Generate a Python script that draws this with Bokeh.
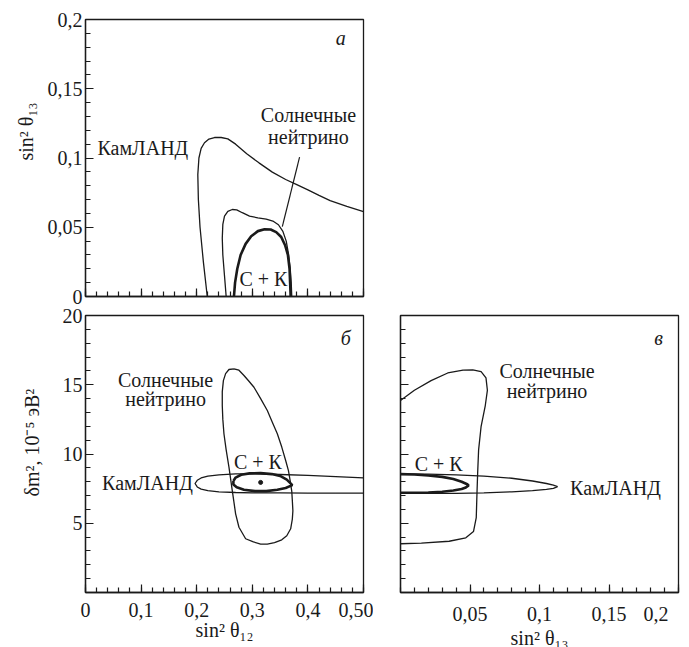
from bokeh.plotting import figure
from bokeh.layouts import gridplot
from bokeh.models import Range1d, FixedTicker, Title
from bokeh.core.properties import value
from bokeh.embed import file_html
from bokeh.resources import INLINE

FONT = "Liberation Serif"
INK = "#1a1a1a"
FS = "20px"

# ---------------- panel a: sin^2 theta12 vs sin^2 theta13 ----------------
a_kam_x = [0.219, 0.212, 0.206, 0.203, 0.202, 0.204, 0.208, 0.214, 0.222, 0.232, 0.244,
           0.256, 0.270, 0.290, 0.312, 0.336, 0.360, 0.380, 0.400, 0.420, 0.440, 0.470, 0.500]
a_kam_y = [0.000, 0.025, 0.050, 0.070, 0.088, 0.100, 0.107, 0.111, 0.1137, 0.1148, 0.1148,
           0.1138, 0.1100, 0.1030, 0.0965, 0.0898, 0.0845, 0.0808, 0.0770, 0.0730, 0.0692, 0.0650, 0.0612]

a_sol_x = [0.253, 0.250, 0.247, 0.246, 0.247, 0.250, 0.256, 0.264, 0.272, 0.282, 0.295,
           0.310, 0.325, 0.337, 0.347, 0.355, 0.361, 0.365, 0.368, 0.370, 0.371]
a_sol_y = [0.000, 0.015, 0.030, 0.042, 0.052, 0.058, 0.0615, 0.0628, 0.0625, 0.0605, 0.058,
           0.0568, 0.0558, 0.0545, 0.0518, 0.047, 0.040, 0.031, 0.021, 0.010, 0.000]

a_ck_x = [0.267, 0.269, 0.273, 0.279, 0.288, 0.298, 0.310, 0.322, 0.333, 0.343, 0.352,
          0.359, 0.364, 0.367, 0.368, 0.369]
a_ck_y = [0.000, 0.010, 0.020, 0.030, 0.038, 0.0435, 0.0472, 0.0485, 0.0484, 0.0465, 0.043,
          0.037, 0.030, 0.020, 0.010, 0.000]

a_lead_x = [0.385, 0.354]
a_lead_y = [0.1006, 0.0505]

# ---------------- panel b: sin^2 theta12 vs dm^2 ----------------
b_sol_x = [0.267, 0.276, 0.285, 0.294, 0.303, 0.315, 0.327, 0.336, 0.345, 0.353, 0.360, 0.365,
           0.368, 0.371, 0.372, 0.373, 0.372, 0.369, 0.362, 0.353, 0.340, 0.327, 0.315, 0.302,
           0.288, 0.276, 0.270, 0.264, 0.258, 0.253, 0.249, 0.247, 0.246, 0.246, 0.248, 0.252,
           0.258, 0.267]
b_sol_y = [16.15, 16.05, 15.67, 15.25, 14.82, 14.0, 13.14, 12.3, 11.46, 10.5, 9.53, 8.8,
           8.09, 7.3, 6.64, 5.9, 5.3, 4.6, 4.1, 3.8, 3.6, 3.5, 3.5, 3.65,
           3.88, 4.71, 5.68, 7.36, 9.05, 10.3, 11.46, 12.5, 13.5, 14.5, 15.3, 15.8,
           16.1, 16.15]

b_kam_x = [0.550, 0.500, 0.450, 0.400, 0.350, 0.300, 0.270, 0.240, 0.220, 0.208, 0.201, 0.197,
           0.201, 0.208, 0.220, 0.240, 0.270, 0.300, 0.350, 0.400, 0.450, 0.500, 0.550]
b_kam_y = [8.20, 8.28, 8.37, 8.45, 8.52, 8.57, 8.56, 8.50, 8.40, 8.27, 8.10, 7.87,
           7.62, 7.46, 7.35, 7.27, 7.22, 7.20, 7.19, 7.18, 7.17, 7.17, 7.17]

b_ck_x = [0.266, 0.270, 0.280, 0.295, 0.315, 0.335, 0.350, 0.362, 0.372, 0.360, 0.345,
          0.325, 0.305, 0.285, 0.272, 0.266, 0.266]
b_ck_y = [8.05, 8.30, 8.50, 8.60, 8.62, 8.55, 8.42, 8.15, 7.75, 7.55, 7.42,
          7.32, 7.32, 7.42, 7.60, 7.80, 8.05]

b_best_x = [0.315]
b_best_y = [7.95]

# ---------------- panel c: sin^2 theta13 vs dm^2 ----------------
c_sol_x = [0.000, 0.010, 0.022, 0.034, 0.045, 0.052, 0.058, 0.0615, 0.0625, 0.061, 0.058,
           0.0562, 0.0555, 0.0550, 0.0545, 0.0525, 0.047, 0.035, 0.015, 0.000]
c_sol_y = [13.86, 14.6, 15.3, 15.85, 16.05, 16.08, 15.95, 15.5, 14.6, 13.5, 12.0,
           10.3, 8.6, 7.1, 5.4, 4.4, 3.95, 3.7, 3.56, 3.52]

c_kam_x = [0.000, 0.020, 0.040, 0.060, 0.080, 0.095, 0.105, 0.110, 0.113, 0.110, 0.105,
           0.095, 0.080, 0.060, 0.040, 0.020, 0.000]
c_kam_y = [8.57, 8.54, 8.49, 8.40, 8.25, 8.05, 7.87, 7.75, 7.65, 7.52, 7.44,
           7.35, 7.27, 7.19, 7.16, 7.15, 7.15]

c_ck_x = [0.000, 0.010, 0.020, 0.030, 0.038, 0.044, 0.048, 0.049, 0.047, 0.044, 0.038,
          0.030, 0.020, 0.010, 0.000]
c_ck_y = [8.55, 8.52, 8.45, 8.35, 8.20, 8.00, 7.82, 7.73, 7.58, 7.47, 7.36,
          7.27, 7.22, 7.20, 7.20]

# ---------------- ticks ----------------
x12_major = [0, 0.1, 0.2, 0.3, 0.4, 0.5]
x12_labels = ["0", "0,1", "0,2", "0,3", "0,4", "0,50"]
y13_major = [0, 0.05, 0.1, 0.15, 0.2]
y13_labels = ["0", "0,05", "0,1", "0,15", "0,2"]
dm_major = [5, 10, 15, 20]
dm_labels = ["5", "10", "15", "20"]
x13_major = [0.05, 0.1, 0.15, 0.2]
x13_labels = ["0,05", "0,1", "0,15", "0,2\u2003"]

x12_minor = [i * 0.02 for i in range(26)]
y13_minor = [i * 0.01 for i in range(21)]
dm_minor = list(range(0, 21))
x13_minor = [i * 0.01 for i in range(21)]

FW, FH = 278, 277


def make(xr, yr, left, right, top, bottom):
    p = figure(frame_width=FW, frame_height=FH, x_range=Range1d(*xr), y_range=Range1d(*yr),
               output_backend="svg", toolbar_location=None,
               min_border_left=left, min_border_right=right,
               min_border_top=top, min_border_bottom=bottom)
    p.grid.visible = False
    p.outline_line_color = INK
    p.outline_line_width = 1.3
    p.background_fill_color = "white"
    p.border_fill_color = "white"
    for ax in p.axis:
        ax.axis_line_color = INK
        ax.axis_line_width = 1.3
        ax.major_tick_in = 8
        ax.major_tick_out = 0
        ax.minor_tick_in = 5
        ax.minor_tick_out = 0
        ax.major_tick_line_color = INK
        ax.minor_tick_line_color = INK
        ax.major_tick_line_width = 1.2
        ax.minor_tick_line_width = 1.2
        ax.major_label_text_font = FONT
        ax.major_label_text_font_size = FS
        ax.major_label_text_color = INK
        ax.axis_label_text_font = FONT
        ax.axis_label_text_font_size = FS
        ax.axis_label_text_font_style = "normal"
        ax.axis_label_text_color = INK
    return p


def ylabel(p, s, offset, standoff):
    p.add_layout(Title(text=s, align="left", offset=offset, standoff=standoff,
                       text_font=FONT, text_font_size=FS, text_font_style="normal",
                       text_color=INK), "left")


def txt(p, x, y, s, align="center", style="normal"):
    p.text(x=[x], y=[y], text=[s], text_font=value(FONT), text_font_size=FS,
           text_font_style=style, text_align=align, text_baseline="middle", text_color=INK)


# ---- panel a
pa = make((0, 0.5), (0, 0.2), 85, 10, 19, 10)
pa.xaxis.ticker = FixedTicker(ticks=x12_major, minor_ticks=x12_minor)
pa.xaxis.major_label_overrides = {t: "" for t in x12_major}
pa.xaxis.major_label_standoff = 0
pa.yaxis.ticker = FixedTicker(ticks=y13_major, minor_ticks=y13_minor)
pa.yaxis.major_label_overrides = dict(zip(y13_major, y13_labels))
pa.yaxis.major_label_standoff = 3
ylabel(pa, "sin² θ₁₃", 136, 16)
pa.line(a_kam_x, a_kam_y, line_color=INK, line_width=1.3)
pa.line(a_sol_x, a_sol_y, line_color=INK, line_width=1.3)
pa.line(a_ck_x, a_ck_y, line_color=INK, line_width=2.6)
pa.line(a_lead_x, a_lead_y, line_color=INK, line_width=1.2)
txt(pa, 0.0216, 0.107, "КамЛАНД", align="left")
txt(pa, 0.401, 0.1307, "Солнечные")
txt(pa, 0.401, 0.1155, "нейтрино")
txt(pa, 0.32, 0.0126, "С + К")
txt(pa, 0.459, 0.187, "а", style="italic")

# ---- panel b
pb = make((0, 0.5), (0, 20), 85, 10, 9, 55)
pb.xaxis.ticker = FixedTicker(ticks=x12_major, minor_ticks=x12_minor)
pb.xaxis.major_label_overrides = dict(zip(x12_major, x12_labels))
pb.xaxis.major_label_standoff = 10
pb.xaxis.axis_label = "sin² θ₁₂"
pb.xaxis.axis_label_standoff = -1
pb.yaxis.ticker = FixedTicker(ticks=dm_major, minor_ticks=dm_minor)
pb.yaxis.major_label_overrides = dict(zip(dm_major, dm_labels))
pb.yaxis.major_label_standoff = 3
ylabel(pb, "δm², 10⁻⁵ эВ²", 96, 34)
pb.line(b_sol_x, b_sol_y, line_color=INK, line_width=1.3)
pb.line(b_kam_x, b_kam_y, line_color=INK, line_width=1.3)
pb.line(b_ck_x, b_ck_y, line_color=INK, line_width=2.6)
pb.scatter(b_best_x, b_best_y, size=4, color=INK)
txt(pb, 0.144, 15.35, "Солнечные")
txt(pb, 0.144, 13.95, "нейтрино")
txt(pb, 0.193, 7.94, "КамЛАНД", align="right")
txt(pb, 0.31, 9.41, "С + К")
txt(pb, 0.468, 18.4, "б", style="italic")

# ---- panel c
pc = make((0, 0.2), (0, 20), 27, 10, 9, 55)
pc.xaxis.ticker = FixedTicker(ticks=x13_major, minor_ticks=x13_minor)
pc.xaxis.major_label_overrides = dict(zip(x13_major, x13_labels))
pc.xaxis.major_label_standoff = 10
pc.xaxis.axis_label = "sin² θ₁₃"
pc.xaxis.axis_label_standoff = -1
pc.yaxis.ticker = FixedTicker(ticks=dm_major, minor_ticks=dm_minor)
pc.yaxis.major_label_overrides = {t: "" for t in dm_major}
pc.yaxis.major_label_standoff = 0
pc.line(c_sol_x, c_sol_y, line_color=INK, line_width=1.3)
pc.line(c_kam_x, c_kam_y, line_color=INK, line_width=1.3)
pc.line(c_ck_x, c_ck_y, line_color=INK, line_width=2.6)
txt(pc, 0.1054, 15.96, "Солнечные")
txt(pc, 0.1054, 14.55, "нейтрино")
txt(pc, 0.122, 7.51, "КамЛАНД", align="left")
txt(pc, 0.0275, 9.3, "С + К")
txt(pc, 0.1856, 18.34, "в", style="italic")

grid = gridplot([[pa, None], [pb, pc]], toolbar_location=None)

open("out.html", "w").write(file_html(grid, INLINE))
